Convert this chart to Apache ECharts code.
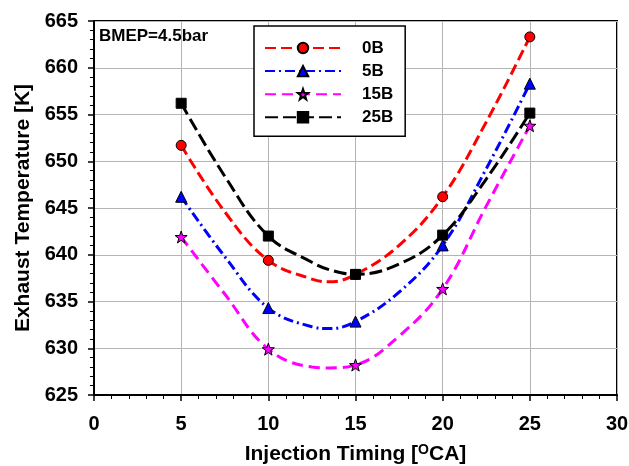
<!DOCTYPE html>
<html>
<head>
<meta charset="utf-8">
<script src="https://cdn.jsdelivr.net/npm/echarts@6/dist/echarts.min.js"></script>
<style>html,body{margin:0;padding:0;background:#fff}#c{width:629px;height:466px}</style>
</head>
<body>
<div id="c"></div>
<script>
// measured points
var xPts = [5, 10, 15, 20, 25];
var y0B  = [651.7, 639.4, 637.9, 646.2, 663.3];
var y5B  = [646.2, 634.3, 632.85, 641.0, 658.3];
var y15B = [641.9, 629.9, 628.2, 636.35, 653.8];
var y25B = [656.2, 642.0, 637.9, 642.1, 655.15];
// smoothed curve, values
var xCurve = [5, 7.5, 10, 12.5, 13.5, 15, 17.5, 20, 22.5, 25];
var c0B  = [651.7, 644.6, 639.4, 637.4, 637.1, 637.9, 641.0, 646.2, 654.2, 663.3];
var c5B  = [646.2, 639.8, 634.3, 632.3, 632.1, 632.85, 636.0, 641.0, 649.2, 658.3];
var c15B = [641.9, 635.8, 629.9, 628.0, 627.9, 628.2, 631.3, 636.35, 645.2, 653.8];
var c25B = [656.2, 648.4, 642.0, 639.2, 638.4, 637.9, 639.0, 642.1, 648.1, 655.15];
var names = ['0B', '5B', '15B', '25B'];
var xTicks = [0, 5, 10, 15, 20, 25, 30];
var yTicks = [625, 630, 635, 640, 645, 650, 655, 660, 665];

var STAR = 'path://M0,-10 L2.35,-3.24 L9.51,-3.09 L3.8,1.24 L5.88,8.09 L0,4 L-5.88,8.09 L-3.8,1.24 L-9.51,-3.09 L-2.35,-3.24 Z';
var FONT = '"Liberation Sans", Arial, sans-serif';

function zip(xs, ys) { return xs.map(function (x, i) { return [x, ys[i]]; }); }

var styles = [
  {color: '#ff0000', symbol: 'circle', size: 10, dash: [11, 5]},
  {color: '#0000ff', symbol: 'triangle', size: 11, dash: [10, 4, 2, 4]},
  {color: '#ff00ff', symbol: STAR, size: 12, dash: [11, 6]},
  {color: '#000000', symbol: 'rect', size: 10, dash: [13, 5]}
];
var curves = [c0B, c5B, c15B, c25B];
var pts = [y0B, y5B, y15B, y25B];

var series = [];
names.forEach(function (n, i) {
  var s = styles[i];
  series.push({
    name: n, type: 'line', smooth: 0.4, showSymbol: false, symbol: s.symbol, symbolSize: s.size,
    data: zip(xCurve, curves[i]),
    lineStyle: {color: s.color, width: 3, type: s.dash},
    itemStyle: {color: s.color, borderColor: '#000', borderWidth: 1},
    z: 3, silent: true, animation: false
  });
});
names.forEach(function (n, i) {
  var s = styles[i];
  series.push({
    name: n + ' data', type: 'scatter', symbol: s.symbol, symbolSize: s.size,
    data: zip(xPts, pts[i]),
    itemStyle: {color: s.color, borderColor: '#000', borderWidth: 1, opacity: 1},
    z: 4, animation: false
  });
});

var chart = echarts.init(document.getElementById('c'), null, {renderer: 'canvas'});
chart.setOption({
  animation: false,
  backgroundColor: '#fff',
  title: {
    text: 'BMEP=4.5bar', left: 99, top: 28, padding: 0,
    textStyle: {fontFamily: FONT, fontSize: 17, fontWeight: 'bold', color: '#000'}
  },
  legend: {
    data: names, orient: 'vertical', left: 254, top: 26,
    padding: [13.5, 12, 10.5, 10], itemWidth: 76, itemHeight: 13, itemGap: 6.1,
    backgroundColor: '#fff', borderColor: '#000', borderWidth: 1.5,
    textStyle: {fontFamily: FONT, fontSize: 17, fontWeight: 'bold', color: '#000', padding: [0, 0, 0, 16]},
    selectedMode: false, z: 10
  },
  grid: {left: 94, right: 12, top: 21, bottom: 71, outerBoundsMode: 'none', show: true, borderColor: '#000', borderWidth: 2, backgroundColor: 'transparent'},
  xAxis: {
    type: 'value', min: xTicks[0], max: xTicks[xTicks.length - 1], interval: 5,
    name: '{m|Injection Timing [}{s|O}{m|CA]}', nameLocation: 'middle', nameGap: 59,
    nameTextStyle: {verticalAlign: 'middle', rich: {
      m: {fontFamily: FONT, fontSize: 21, fontWeight: 'bold', color: '#000', lineHeight: 22, verticalAlign: 'bottom'},
      s: {fontFamily: FONT, fontSize: 14, fontWeight: 'bold', color: '#000', lineHeight: 22, verticalAlign: 'top', padding: [0, 0, 8, 0]}
    }},
    axisLine: {lineStyle: {color: '#000', width: 2}},
    axisTick: {show: true, inside: false, length: 6, lineStyle: {color: '#000', width: 1.5}},
    minorTick: {show: true, splitNumber: 5, length: 4, lineStyle: {color: '#000', width: 1}},
    splitLine: {show: true, lineStyle: {color: '#b4b4b4', width: 1}},
    axisLabel: {fontFamily: FONT, fontSize: 20, fontWeight: 'bold', color: '#000', margin: 19}
  },
  yAxis: {
    type: 'value', min: yTicks[0], max: yTicks[yTicks.length - 1], interval: 5,
    name: 'Exhaust Temperature [K]', nameLocation: 'middle', nameGap: 69, nameRotate: 90,
    nameTextStyle: {fontFamily: FONT, fontSize: 21, fontWeight: 'bold', color: '#000', verticalAlign: 'middle'},
    axisLine: {lineStyle: {color: '#000', width: 2}},
    axisTick: {show: true, inside: false, length: 6, lineStyle: {color: '#000', width: 1.5}},
    minorTick: {show: true, splitNumber: 5, length: 4, lineStyle: {color: '#000', width: 1}},
    splitLine: {show: true, lineStyle: {color: '#b4b4b4', width: 1}},
    axisLabel: {fontFamily: FONT, fontSize: 20, fontWeight: 'bold', color: '#000', margin: 16}
  },
  series: series
});
</script>
</body>
</html>
